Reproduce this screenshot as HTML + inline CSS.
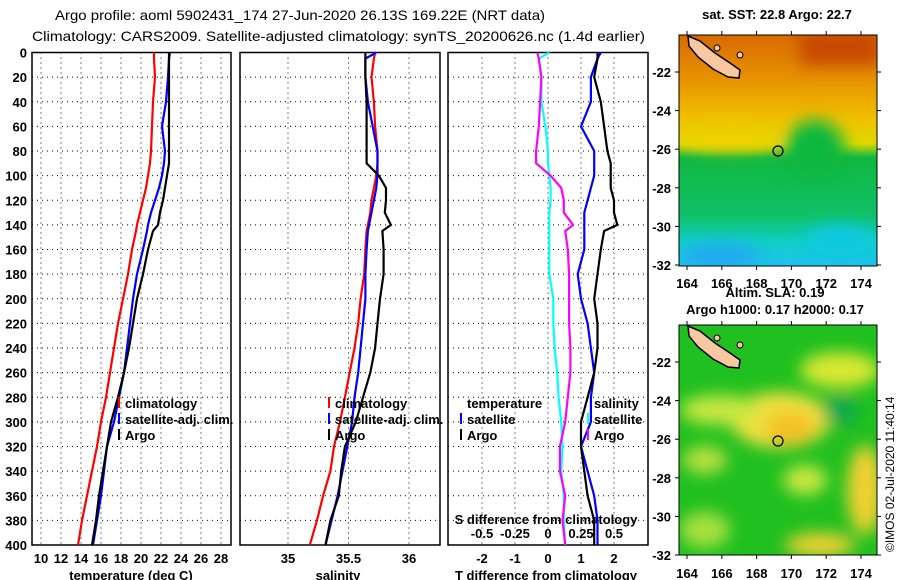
<!DOCTYPE html>
<html><head><meta charset="utf-8"><style>
html,body{margin:0;padding:0;background:#fff}
svg{display:block;font-family:"Liberation Sans",sans-serif}
.t{font-size:13px;font-weight:bold}
</style></head><body>
<svg id="chart" width="900" height="580" xmlns="http://www.w3.org/2000/svg">
<defs>
<linearGradient id="sstg" x1="0" y1="0" x2="0" y2="1">
<stop offset="0" stop-color="#d86a00"/><stop offset="0.2" stop-color="#e89400"/><stop offset="0.36" stop-color="#f0c000"/><stop offset="0.47" stop-color="#e0d800"/><stop offset="0.53" stop-color="#10b840"/><stop offset="0.78" stop-color="#10c068"/><stop offset="0.9" stop-color="#10d0c8"/><stop offset="1" stop-color="#20c0f0"/>
</linearGradient>
<filter id="blur"><feGaussianBlur stdDeviation="8"/></filter>
<clipPath id="c1"><rect x="679" y="35" width="198" height="231"/></clipPath>
<clipPath id="c2"><rect x="679" y="325" width="198" height="230"/></clipPath>
</defs>
<text x="55" y="20" font-size="14" textLength="490" lengthAdjust="spacingAndGlyphs">Argo profile: aoml 5902431_174 27-Jun-2020 26.13S 169.22E (NRT data)</text>
<text x="32" y="41" font-size="14" textLength="613" lengthAdjust="spacingAndGlyphs">Climatology: CARS2009. Satellite-adjusted climatology: synTS_20200626.nc (1.4d earlier)</text>
<g id="panels"></g>
<!-- SST map -->
<g clip-path="url(#c1)">
<rect x="679" y="35" width="198" height="231" fill="url(#sstg)"/>
<g filter="url(#blur)">
<rect x="800" y="30" width="80" height="35" fill="#c84800"/>
<ellipse cx="815" cy="150" rx="30" ry="30" fill="#10b840"/>
<ellipse cx="730" cy="140" rx="50" ry="10" fill="#f0d000"/>
<ellipse cx="840" cy="240" rx="35" ry="15" fill="#10c8e0"/>
<ellipse cx="720" cy="255" rx="40" ry="12" fill="#20a8f0"/>
</g>
<polygon points="688,36 700,41 715,53 730,63 740,70 739,78 728,77 713,69 698,57 689,46" fill="#f8c8a0" stroke="#000" stroke-width="1.5"/>
<circle cx="717" cy="48" r="3" fill="#f8c8a0" stroke="#000"/><circle cx="740" cy="55" r="3" fill="#f8c8a0" stroke="#000"/>
</g>
<rect x="679" y="35" width="198" height="231" fill="none" stroke="#000"/>
<circle cx="778" cy="151" r="5" fill="none" stroke="#000" stroke-width="1.2"/>
<!-- SLA map -->
<g clip-path="url(#c2)">
<rect x="679" y="325" width="198" height="230" fill="#20c020"/>
<g filter="url(#blur)">
<ellipse cx="780" cy="420" rx="50" ry="28" fill="#f0e040"/>
<ellipse cx="790" cy="428" rx="25" ry="16" fill="#f4c020"/>
<ellipse cx="720" cy="410" rx="40" ry="15" fill="#c8e840"/>
<ellipse cx="840" cy="370" rx="40" ry="18" fill="#d8e830"/>
<ellipse cx="865" cy="490" rx="18" ry="45" fill="#f0d030"/>
<ellipse cx="805" cy="480" rx="22" ry="15" fill="#c8e840"/>
<ellipse cx="820" cy="545" rx="35" ry="12" fill="#f0d030"/>
<ellipse cx="840" cy="410" rx="18" ry="15" fill="#10a850"/>
<ellipse cx="705" cy="460" rx="22" ry="14" fill="#b8e040"/>
<ellipse cx="705" cy="530" rx="25" ry="18" fill="#a8e040"/>
</g>
<polygon points="688,326 700,331 715,343 730,353 740,360 739,368 728,367 713,359 698,347 689,336" fill="#f8c8a0" stroke="#000" stroke-width="1.5"/>
<circle cx="717" cy="338" r="3" fill="#f8c8a0" stroke="#000"/><circle cx="740" cy="345" r="3" fill="#f8c8a0" stroke="#000"/>
</g>
<rect x="679" y="325" width="198" height="230" fill="none" stroke="#000"/>
<circle cx="778" cy="441" r="5" fill="none" stroke="#000" stroke-width="1.2"/>
<text x="777" y="19" class="t" text-anchor="middle" font-size="12">sat. SST: 22.8 Argo: 22.7</text>
<text x="775" y="297" class="t" text-anchor="middle" font-size="12">Altim. SLA: 0.19</text>
<text x="775" y="314" class="t" text-anchor="middle" font-size="12">Argo h1000: 0.17 h2000: 0.17</text>
<text transform="translate(894,552) rotate(-90)" font-size="12">©IMOS 02-Jul-2020 11:40:14</text>
<g id="maps"></g>
</svg>
<script>
const depths=[0,5,20,40,60,80,90,100,110,120,130,140,145,160,180,200,220,240,260,280,300,320,340,360,380,400];
const climT=[21.3,21.3,21.4,21.2,21.1,21.0,20.9,20.7,20.5,20.2,19.9,19.6,19.5,19.1,18.7,18.2,17.7,17.3,16.9,16.5,16.0,15.6,15.1,14.6,14.1,13.7];
const satT=[22.9,22.8,22.7,22.5,22.1,22.4,22.3,22.1,21.8,21.4,21.0,20.7,20.6,20.2,19.6,19.2,18.9,18.6,18.3,17.8,17.3,16.6,16.3,16.0,15.6,15.2];
const argoT=[22.8,22.8,22.8,22.8,22.8,22.8,22.8,22.6,22.4,22.2,21.9,21.7,21.2,20.7,20.2,19.6,19.2,18.8,18.3,17.7,17.0,16.6,16.2,15.8,15.5,15.1];
const climS=[35.72,35.71,35.69,35.71,35.72,35.74,35.74,35.73,35.71,35.69,35.68,35.66,35.65,35.64,35.63,35.60,35.58,35.55,35.51,35.47,35.43,35.38,35.35,35.29,35.24,35.18];
const satS=[35.73,35.64,35.64,35.66,35.70,35.74,35.74,35.74,35.73,35.71,35.69,35.67,35.66,35.65,35.64,35.64,35.62,35.60,35.58,35.55,35.53,35.49,35.45,35.41,35.36,35.31];
const argoS=[35.64,35.64,35.64,35.65,35.65,35.65,35.65,35.75,35.81,35.81,35.80,35.85,35.78,35.79,35.79,35.76,35.74,35.72,35.68,35.62,35.56,35.47,35.44,35.42,35.35,35.31];
const depthTicks=[0,20,40,60,80,100,120,140,160,180,200,220,240,260,280,300,320,340,360,380,400];
const tempTicks=[10,12,14,16,18,20,22,24,26,28];
const salTicks=[35,35.5,36];
const tdiffTicks=[-2,-1,0,1,2];
const sdiffTicks=[-0.5,-0.25,0,0.25,0.5];
const mapLonTicks=[164,166,168,170,172,174];
const mapLatTicks=[-22,-24,-26,-28,-30,-32];

const NS='http://www.w3.org/2000/svg';
const g=document.getElementById('panels');
function mk(tag,at,parent){const e=document.createElementNS(NS,tag);for(const k in at)e.setAttribute(k,at[k]);(parent||g).appendChild(e);return e;}
const Y0=52.5,Y1=545;
const yD=d=>Y0+(d/400)*(Y1-Y0);
const xT=t=>41+(t-10)*10;
const xS=s=>288+(s-35)*121;
const xTD=v=>548+v*33;
const xSD=v=>548+v*132;
const panels=[[32,231],[240,440],[448,648]];
panels.forEach((p,i)=>{
  const r=mk('rect',{x:p[0],y:Y0,width:p[1]-p[0],height:Y1-Y0,fill:'none',stroke:'#000','stroke-width':1.5});
  
  
  depthTicks.forEach(d=>{
    const l=mk('line',{x1:p[0],x2:p[1],y1:yD(d),y2:yD(d),stroke:'#000','stroke-dasharray':'1,4'});
    
    
  });
});
depthTicks.forEach(d=>{
  const t=mk('text',{x:27,y:yD(d)+5,'text-anchor':'end',class:'t'});t.textContent=d;
  
  
});
function vgrid(ticks,fx,p,labels){
  ticks.forEach(v=>{
    const l=mk('line',{x1:fx(v),x2:fx(v),y1:Y0,y2:Y1,stroke:'#000','stroke-dasharray':'1,4'});
    
    
    if(labels){const t=mk('text',{x:fx(v),y:563,'text-anchor':'middle',class:'t'});t.textContent=v;
    
    }
  });
}
vgrid(tempTicks,xT,panels[0],true);
vgrid(salTicks,xS,panels[1],true);
vgrid(tdiffTicks,xTD,panels[2],true);
sdiffTicks.forEach(v=>{const t=mk('text',{x:xSD(v),y:538,'text-anchor':'middle',class:'t'});t.textContent=v;
  
  });
function xt(x,y,s,name,anchor){const t=mk('text',{x:x,y:y,class:'t','text-anchor':anchor||'middle'});t.textContent=s;
  
  return t;}
xt(131,580,'temperature (deg C)','x-axis-title-temperature');
xt(338,580,'salinity','x-axis-title-salinity');
xt(546,580,'T difference from climatology','x-axis-title-tdiff');
xt(546,524,'S difference from climatology','s-diff-title');
function line(vals,fx,color,name){
  const pts=vals.map((v,i)=>fx(v).toFixed(1)+','+yD(depths[i]).toFixed(1)).join(' ');
  const l=mk('polyline',{points:pts,fill:'none',stroke:color,'stroke-width':2.2});
  
  
}
line(climT,xT,'#f00','temp-climatology-line');
line(satT,xT,'#00f','temp-satellite-line');
line(argoT,xT,'#000','temp-argo-line');
line(climS,xS,'#f00','sal-climatology-line');
line(satS,xS,'#00f','sal-satellite-line');
line(argoS,xS,'#000','sal-argo-line');
line(satS.map((v,i)=>v-climS[i]),xSD,'#0ff','sdiff-satellite-line');
line(argoS.map((v,i)=>v-climS[i]),xSD,'#f0f','sdiff-argo-line');
line(satT.map((v,i)=>v-climT[i]),xTD,'#00f','tdiff-satellite-line');
line(argoT.map((v,i)=>v-climT[i]),xTD,'#000','tdiff-argo-line');
function leg(x,y,color,label,name){
  const l=mk('line',{x1:x,x2:x,y1:y-11,y2:y,stroke:color,'stroke-width':2});
  
  
  if(label)xt(x+6,y,label,name,'start');
}
[[119,'#f00','climatology'],[119,'#00f','satellite-adj. clim.'],[119,'#000','Argo']].forEach((e,i)=>leg(e[0],408+i*16,e[1],e[2],'temp-legend-entry'));
[[329,'#f00','climatology'],[329,'#00f','satellite-adj. clim.'],[329,'#000','Argo']].forEach((e,i)=>leg(e[0],408+i*16,e[1],e[2],'sal-legend-entry'));
xt(467,408,'temperature','tdiff-legend-header','start');
leg(461,424,'#00f','satellite','tdiff-legend-satellite');
leg(461,440,'#000','Argo','tdiff-legend-argo');
xt(594,408,'salinity','sdiff-legend-header','start');
leg(588,424,'#0ff','satellite','sdiff-legend-satellite');
leg(588,440,'#f0f','Argo','sdiff-legend-argo');
// map axes
const mg=document.getElementById('maps');
const lonX=l=>687+(l-164)*17.4;
[[35,266,72,265,288],[325,555,362,555,578]].forEach((m,k)=>{
  const latY=la=>m[2]+(-22-la)*((m[3]-m[2])/10);
  mapLonTicks.forEach(l=>{
    mk('line',{x1:lonX(l),x2:lonX(l),y1:m[1],y2:m[1]+4,stroke:'#000'},mg);
    mk('line',{x1:lonX(l),x2:lonX(l),y1:m[0],y2:m[0]-4,stroke:'#000'},mg);
    const t=mk('text',{x:lonX(l),y:m[4],class:'t','text-anchor':'middle'},mg);t.textContent=l;
    
    
  });
  mapLatTicks.forEach(la=>{
    mk('line',{x1:675,x2:679,y1:latY(la),y2:latY(la),stroke:'#000'},mg);
    mk('line',{x1:877,x2:881,y1:latY(la),y2:latY(la),stroke:'#000'},mg);
    const t=mk('text',{x:671,y:latY(la)+5,class:'t','text-anchor':'end'},mg);t.textContent=la;
    
    
  });
});
</script>
</body></html>
